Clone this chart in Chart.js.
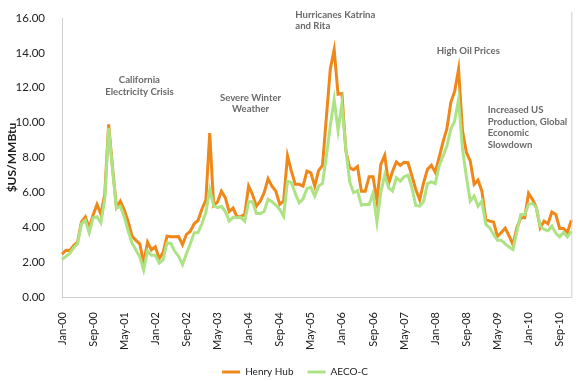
<!DOCTYPE html>
<html>
<head>
<meta charset="utf-8">
<script src="https://cdn.jsdelivr.net/npm/chart.js@4.4.1/dist/chart.umd.min.js"></script>
<style>
  html, body { margin: 0; padding: 0; background: #fff; }
</style>
</head>
<body>
<canvas id="myChart" width="580" height="381"></canvas>
<script>
// monthly gas prices, Jan-00 .. Dec-10
var months = ['Jan', 'Feb', 'Mar', 'Apr', 'May', 'Jun', 'Jul', 'Aug', 'Sep', 'Oct', 'Nov', 'Dec'];
var years = ['00', '01', '02', '03', '04', '05', '06', '07', '08', '09', '10'];
var tickEvery = 8;

var henryHub = [
  2.45, 2.68, 2.66, 2.95, 3.15, 4.30, 4.60, 3.97, 4.70, 5.31, 4.75, 5.90,
  9.90, 7.40, 5.15, 5.50, 5.00, 4.35, 3.50, 3.25, 3.05, 1.95, 3.14, 2.70,
  2.88, 2.20, 2.55, 3.49, 3.45, 3.45, 3.47, 3.00, 3.58, 3.77, 4.20, 4.40,
  5.05, 5.56, 9.40, 5.25, 5.45, 6.07, 5.70, 4.90, 5.10, 4.60, 4.62, 4.73,
  6.36, 5.88, 5.21, 5.50, 5.98, 6.78, 6.36, 6.07, 5.31, 5.50, 8.09, 7.22,
  6.46, 6.46, 6.36, 7.22, 7.12, 6.36, 7.25, 7.55, 10.30, 13.07, 14.18, 11.63,
  11.67, 8.40, 7.40, 7.30, 7.48, 6.07, 6.07, 6.90, 6.90, 5.50, 7.60, 8.12,
  6.50, 7.20, 7.74, 7.55, 7.72, 7.70, 6.94, 6.17, 5.57, 6.55, 7.32, 7.55,
  7.15, 8.00, 8.90, 9.65, 11.15, 11.80, 13.07, 9.55, 8.30, 7.80, 6.46, 6.70,
  6.07, 4.44, 4.35, 4.30, 3.47, 3.70, 3.95, 3.50, 3.00, 3.97, 4.54, 4.54,
  5.94, 5.60, 5.12, 3.97, 4.35, 4.20, 4.87, 4.73, 3.93, 3.93, 3.70, 4.40
];

var aecoC = [
  2.14, 2.33, 2.50, 2.82, 3.05, 4.20, 4.40, 3.68, 4.54, 4.60, 4.25, 5.60,
  9.70, 7.30, 5.10, 5.20, 4.60, 3.80, 3.10, 2.70, 2.30, 1.55, 2.65, 2.40,
  2.40, 1.95, 2.14, 3.10, 3.07, 2.62, 2.33, 1.86, 2.48, 3.05, 3.68, 3.70,
  4.20, 4.85, 6.17, 5.25, 5.12, 5.20, 4.90, 4.35, 4.57, 4.54, 4.57, 4.35,
  5.46, 5.46, 4.79, 4.79, 4.90, 5.60, 5.46, 5.27, 5.02, 4.63, 6.65, 6.56,
  5.94, 5.40, 5.63, 6.21, 6.30, 5.79, 6.36, 6.51, 8.09, 9.80, 11.34, 9.55,
  11.10, 8.50, 6.60, 5.98, 6.10, 5.27, 5.30, 5.30, 5.94, 4.29, 6.00, 6.98,
  6.27, 6.07, 6.84, 6.65, 6.90, 6.98, 6.27, 5.25, 5.21, 5.47, 6.50, 6.60,
  6.50, 7.51, 8.09, 8.66, 9.62, 10.10, 11.34, 8.50, 6.90, 5.50, 5.79, 5.21,
  5.50, 4.16, 3.97, 3.59, 3.25, 3.25, 3.05, 2.87, 2.72, 3.77, 4.73, 4.73,
  5.31, 5.37, 5.12, 4.06, 3.87, 3.80, 4.06, 3.66, 3.45, 3.70, 3.45, 3.77
];

// event notes: month index and price level they sit at
var notes = [
  { lines: ['California', 'Electricity Crisis'], month: 19.9, value: 12.44, align: 'center' },
  { lines: ['Severe Winter', 'Weather'], month: 48.5, value: 11.44, align: 'center' },
  { lines: ['Hurricanes Katrina', 'and Rita'], month: 60.0, value: 16.19, align: 'left' },
  { lines: ['High Oil Prices'], month: 104.5, value: 14.09, align: 'center' },
  { lines: ['Increased US', 'Production, Global', 'Economic', 'Slowdown'], month: 109.5, value: 10.73, align: 'left' }
];

var labels = [];
years.forEach(function (y) {
  months.forEach(function (m) { labels.push(m + '-' + y); });
});

Chart.defaults.font.family = 'Lato';
Chart.defaults.color = '#222';

var notesPlugin = {
  id: 'notes',
  afterDatasetsDraw: function (chart) {
    var ctx = chart.ctx, x = chart.scales.x, y = chart.scales.y;
    ctx.save();
    ctx.font = 'bold 9.6px Lato';
    ctx.fillStyle = '#6a6a6a';
    ctx.textBaseline = 'middle';
    notes.forEach(function (n) {
      ctx.textAlign = n.align;
      var px = x.getPixelForValue(n.month);
      var py = y.getPixelForValue(n.value);
      n.lines.forEach(function (t, k) { ctx.fillText(t, px, py + k * 11.7); });
    });
    // right frame line
    var a = chart.chartArea;
    ctx.strokeStyle = '#cfcfcf';
    ctx.lineWidth = 1;
    ctx.beginPath();
    ctx.moveTo(a.right + 0.5, a.top - 6);
    ctx.lineTo(a.right + 0.5, a.bottom);
    ctx.stroke();
    ctx.restore();
  }
};

var ctx = document.getElementById('myChart').getContext('2d');
var chart = new Chart(ctx, {
  type: 'line',
  data: {
    labels: labels,
    datasets: [{
      label: 'Henry Hub',
      data: henryHub,
      borderColor: '#ef8719',
      backgroundColor: '#ef8719',
      borderWidth: 3,
      pointRadius: 0,
      tension: 0,
      order: 2
    }, {
      label: 'AECO-C',
      data: aecoC,
      borderColor: '#ade385',
      backgroundColor: '#ade385',
      borderWidth: 3,
      pointRadius: 0,
      tension: 0,
      order: 1
    }]
  },
  options: {
    responsive: false,
    animation: false,
    layout: { padding: { top: 18, right: 6, left: 16, bottom: -6 } },
    scales: {
      x: {
        offset: false,
        grid: { display: false },
        border: { display: true, color: '#cfcfcf' },
        afterFit: function (s) { s.height = 56; },
        ticks: {
          autoSkip: false,
          minRotation: 90,
          maxRotation: 90,
          padding: 7,
          font: { size: 11 },
          callback: function (v, i) { return i % tickEvery === 0 ? labels[i] : null; }
        }
      },
      y: {
        min: 0,
        max: 16,
        grid: { display: false },
        border: { display: true, color: '#cfcfcf' },
        afterFit: function (s) { s.width = 46; },
        ticks: {
          stepSize: 2,
          padding: 9,
          font: { size: 11.5 },
          callback: function (v) { return v.toFixed(2); }
        },
        title: {
          display: true,
          text: '$US/MMBtu',
          font: { size: 12, weight: 'bold' },
          padding: { top: -11, bottom: 0 }
        }
      }
    },
    plugins: {
      tooltip: { enabled: false },
      legend: {
        position: 'bottom',
        labels: {
          boxWidth: 18,
          boxHeight: 3,
          padding: 14,
          font: { size: 10 },
          sort: function (a, b) { return a.datasetIndex - b.datasetIndex; },
          generateLabels: function (c) {
            return Chart.defaults.plugins.legend.labels.generateLabels(c).map(function (l) {
              l.lineWidth = 0;
              return l;
            });
          }
        }
      }
    }
  },
  plugins: [notesPlugin]
});
</script>
</body>
</html>
